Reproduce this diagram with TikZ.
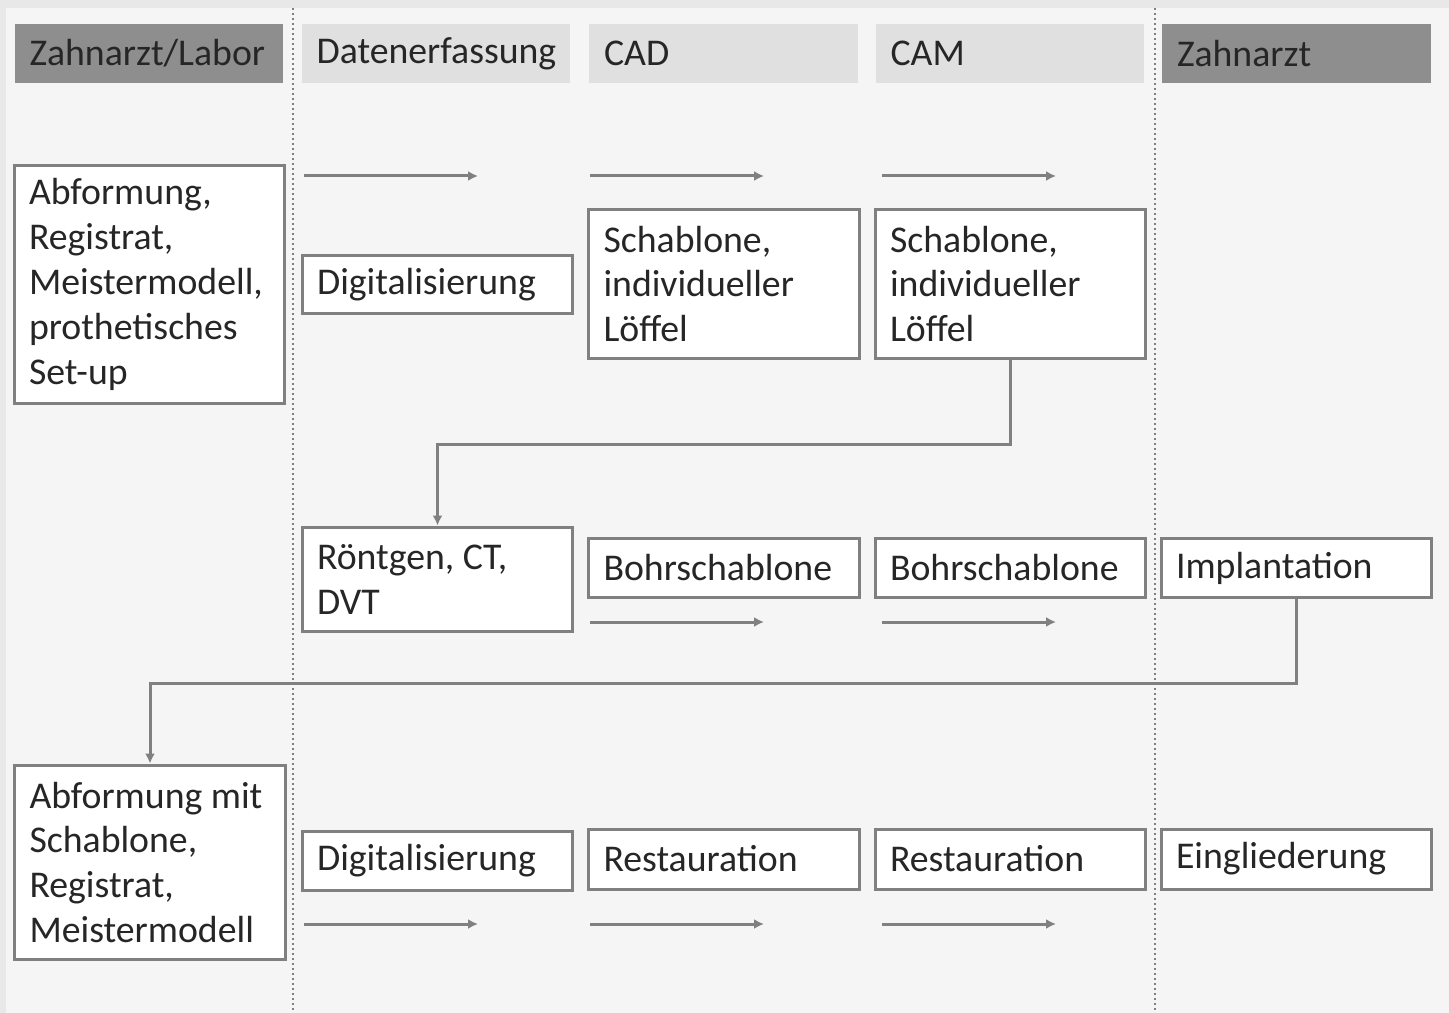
\documentclass[tikz,border=0pt]{standalone}
\usepackage{fontspec}
\setmainfont{Carlito}
\usetikzlibrary{arrows.meta}

\definecolor{frame}{HTML}{E8E8E8}
\definecolor{paper}{HTML}{F5F5F5}
\definecolor{darkhead}{HTML}{8E8E8E}
\definecolor{lighthead}{HTML}{E0E0E0}
\definecolor{boxgray}{HTML}{808080}
\definecolor{ink}{HTML}{262626}

\tikzset{
  txt/.style={font=\fontsize{21.5}{25.6}\selectfont, text=ink, align=flush left},
  head/.style={txt, fill=#1, minimum width=5.38cm, minimum height=1.18cm,
    text width=4.78cm, inner xsep=0.3cm},
  stepbox/.style={txt, draw=boxgray, line width=0.06cm, fill=white,
    minimum width=5.42cm, minimum height=#1, text width=4.82cm, inner xsep=0.3cm},
  stepbox/.default=1.2cm,
  flow/.style={draw=boxgray, line width=0.06cm, -{Latex[length=0.2cm,width=0.2cm]}},
  lane/.style={draw=boxgray, line width=0.04cm, dash pattern=on 0.05cm off 0.05cm}
}

\begin{document}
\begin{tikzpicture}[x=0.02cm, y=-0.02cm]
  \useasboundingbox (0,0) rectangle (1449,1013);
  \fill[frame] (0,0) rectangle (1449,1013);
  \fill[paper] (6,8) rectangle (1449,1013);
  \draw[lane] (293,8) -- (293,1013);
  \draw[lane] (1155,8) -- (1155,1013);

  % headers
  \node[head=darkhead]  (h1) at (149,53.5)    {Zahnarzt/Labor};
  \node[head=lighthead] (h2) at (436,53.5)    {Datenerfassung};
  \node[head=lighthead] (h3) at (723.5,53.5)  {CAD};
  \node[head=lighthead] (h4) at (1010,53.5)   {CAM};
  \node[head=darkhead]  (h5) at (1296.5,53.5) {Zahnarzt};

  % first pass
  \node[stepbox=4.78cm] (abf1) at (149.5,284.5) {Abformung,\\Registrat,\\Meistermodell,\\prothetisches\\Set-up};
  \node[stepbox=1.18cm] (dig1) at (437.5,284.5) {Digitalisierung};
  \node[stepbox=3cm]    (cad1) at (724,284)     {Schablone,\\individueller\\Löffel};
  \node[stepbox=3cm]    (cam1) at (1010.5,284)  {Schablone,\\individueller\\Löffel};

  % second pass
  \node[stepbox=2.1cm] (xray) at (437.5,579.5) {Röntgen, CT,\\DVT};
  \node[stepbox]       (cad2) at (724,568)     {Bohrschablone};
  \node[stepbox]       (cam2) at (1010.5,568)  {Bohrschablone};
  \node[stepbox]       (impl) at (1296.5,568)  {Implantation};

  % third pass
  \node[stepbox=3.9cm]  (abf2) at (150,862.5)   {Abformung mit\\Schablone,\\Registrat,\\Meistermodell};
  \node[stepbox=1.18cm] (dig2) at (437.5,860.5) {Digitalisierung};
  \node[stepbox]        (cad3) at (724,859)     {Restauration};
  \node[stepbox]        (cam3) at (1010.5,859)  {Restauration};
  \node[stepbox]        (ein)  at (1296.5,859)  {Eingliederung};

  % arrows between lanes
  \foreach \x [count=\i] in {304,590,882} {
    \coordinate (ra\i) at (\x,176);
    \coordinate (rb\i) at (\x+174,176);
    \draw[flow] (ra\i) -- (rb\i);
    \coordinate (ta\i) at (\x,924);
    \coordinate (tb\i) at (\x+174,924);
    \draw[flow] (ta\i) -- (tb\i);
  }
  \foreach \x [count=\i] in {590,882} {
    \coordinate (sa\i) at (\x,622);
    \coordinate (sb\i) at (\x+174,622);
    \draw[flow] (sa\i) -- (sb\i);
  }

  \draw[flow] (cam1.south) -- ++(0,84) -| (xray.north);
  \draw[flow] (impl.south) -- ++(0,84) -| (abf2.north);
\end{tikzpicture}
\end{document}
